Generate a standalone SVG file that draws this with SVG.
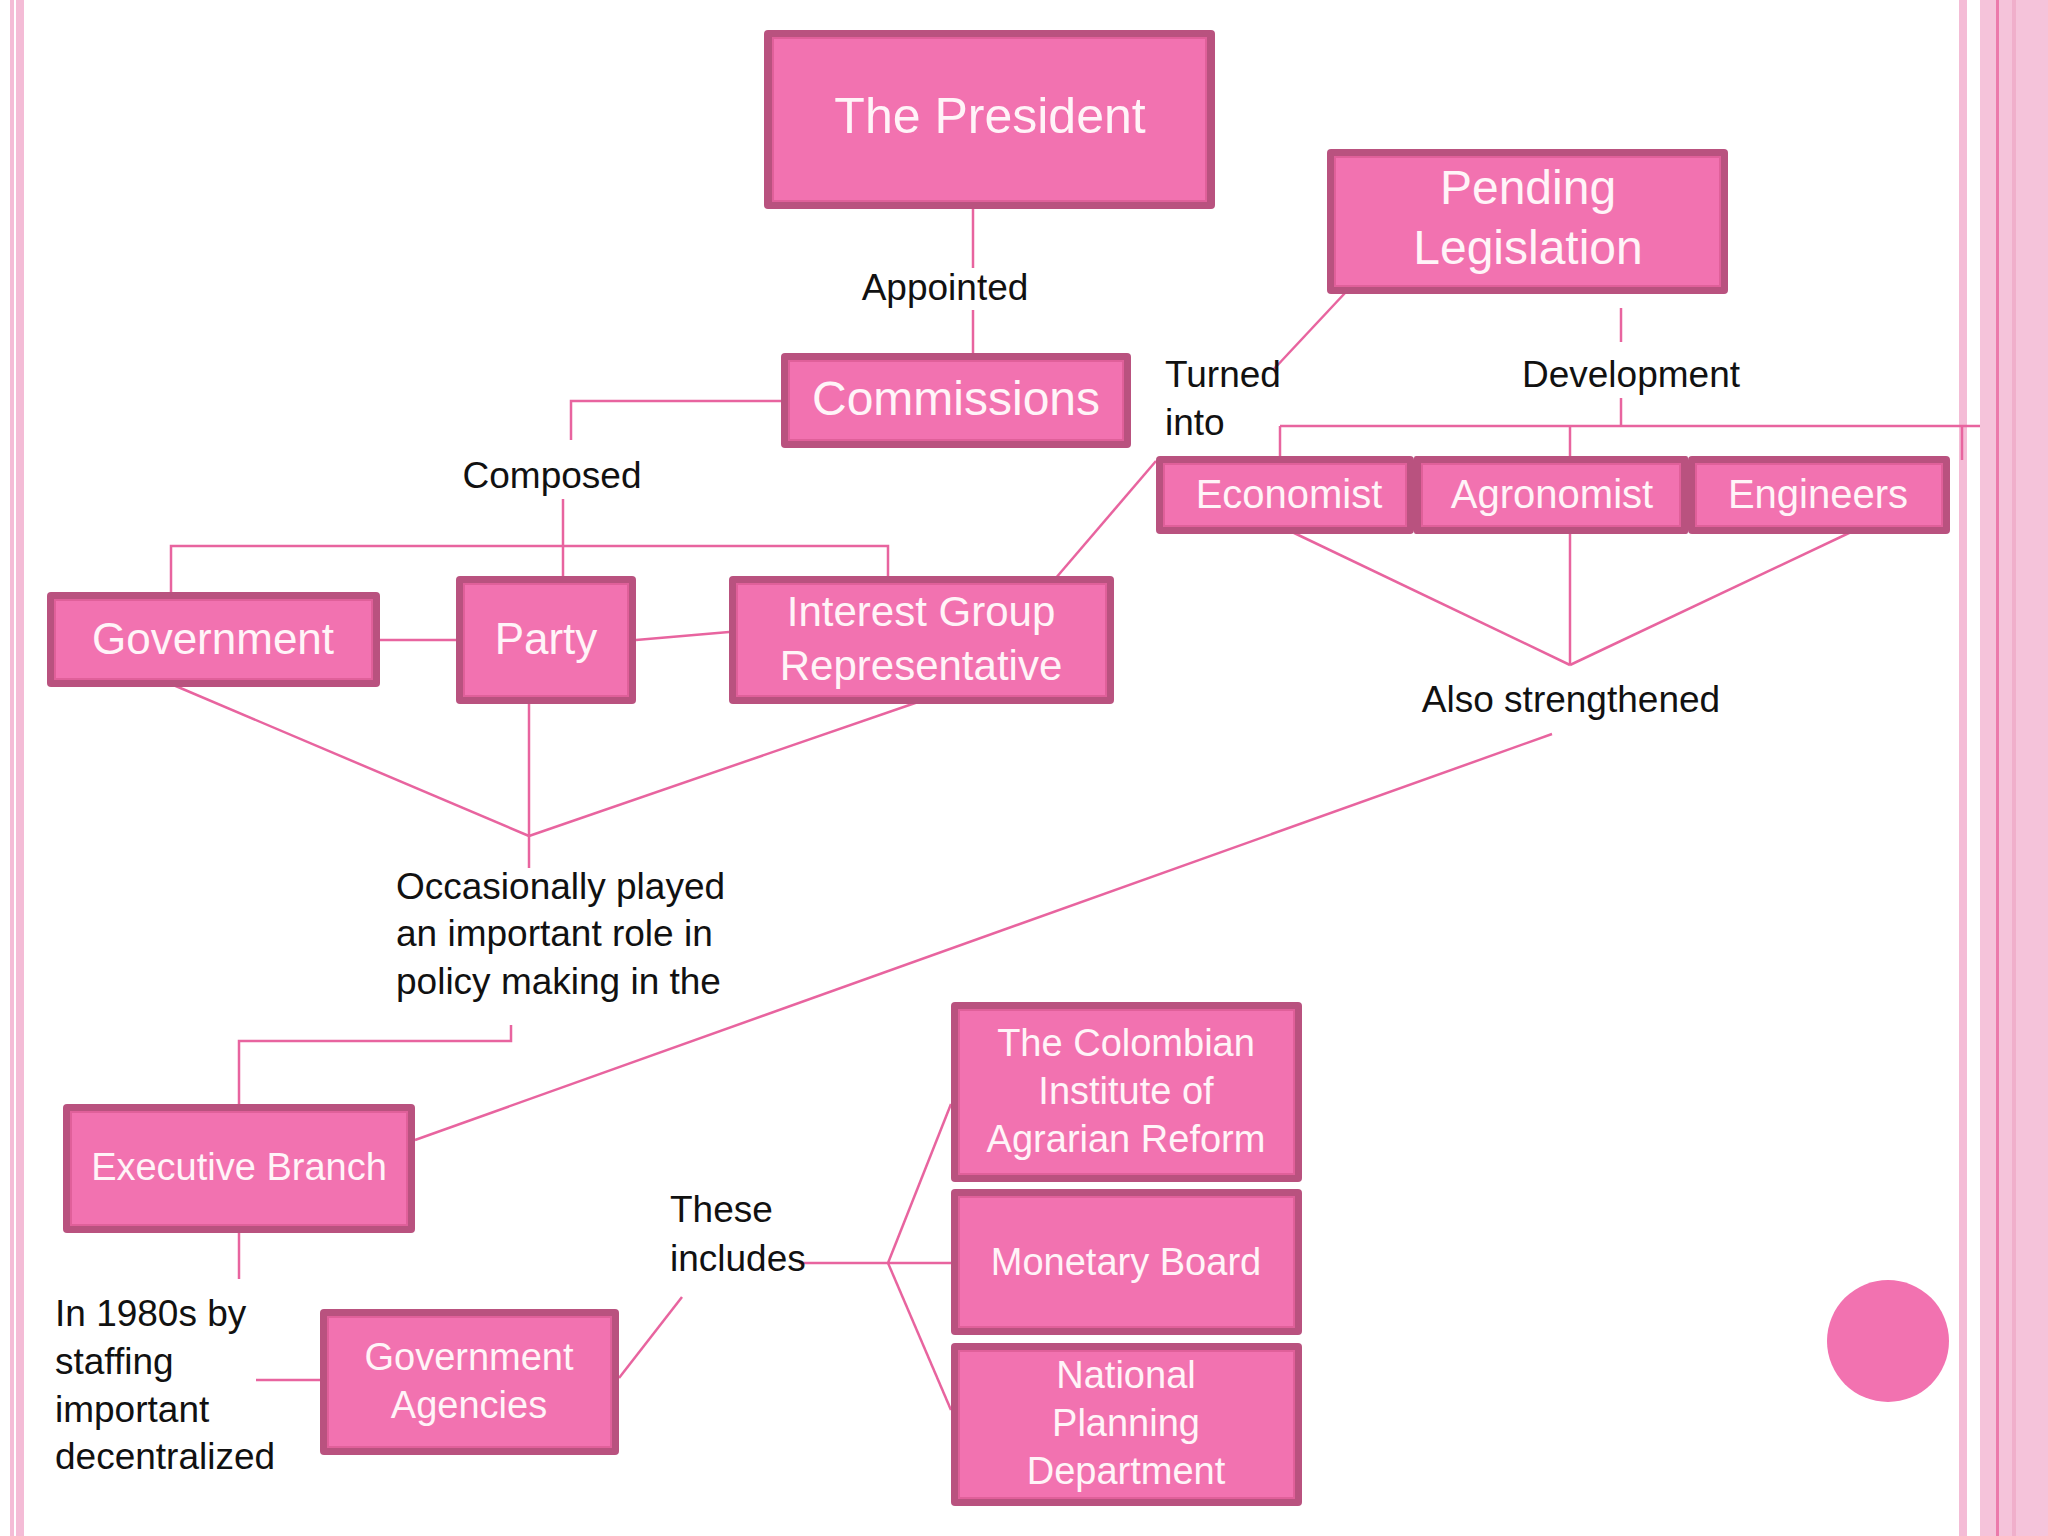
<svg xmlns="http://www.w3.org/2000/svg" width="2048" height="1536" viewBox="0 0 2048 1536">
<style>
.o{fill:#b9527f}
.i{fill:#f272b0;stroke:#e0609a;stroke-width:2}
.t{font-family:"Liberation Sans",Arial,sans-serif;fill:#fff4f8;text-anchor:middle}
.l{font-family:"Liberation Sans",Arial,sans-serif;fill:#111;font-size:37px}
#connectors line,#connectors polyline{stroke:#e8649f;stroke-width:2.5;fill:none}
</style>
<rect width="2048" height="1536" fill="#fff"/>
<rect x="10" y="0" width="4" height="1536" fill="#f4bcd6"/>
<rect x="16" y="0" width="8" height="1536" fill="#f4bcd6"/>
<rect x="1959" y="0" width="8" height="1536" fill="#f4bcd6"/>
<rect x="1980" y="0" width="68" height="1536" fill="#f5c3da"/>
<rect x="1996" y="0" width="3" height="1536" fill="#ec7aab"/>
<rect x="2012" y="0" width="4" height="1536" fill="#f0afcb"/>
<circle cx="1888" cy="1341" r="61" fill="#f272b0"/>
<g id="connectors">
<line x1="973" y1="209" x2="973" y2="268"/><line x1="973" y1="310" x2="973" y2="353"/>
<polyline points="781,401 571,401 571,440"/>
<line x1="563" y1="499" x2="563" y2="576"/>
<polyline points="171,592 171,546 888,546 888,576"/>
<line x1="380" y1="640" x2="456" y2="640"/>
<line x1="636" y1="640" x2="729" y2="632"/>
<line x1="171" y1="684" x2="529" y2="836"/>
<line x1="529" y1="704" x2="529" y2="868"/>
<line x1="921" y1="701" x2="529" y2="836"/>
<polyline points="511,1025 511,1041 239,1041 239,1104"/>
<line x1="1055" y1="579" x2="1156" y2="461"/>
<line x1="1345" y1="293" x2="1273" y2="370"/>
<line x1="1621" y1="308" x2="1621" y2="342"/>
<line x1="1621" y1="398" x2="1621" y2="426"/>
<line x1="1280" y1="426" x2="1980" y2="426"/>
<line x1="1280" y1="426" x2="1280" y2="456"/>
<line x1="1570" y1="426" x2="1570" y2="456"/>
<line x1="1962" y1="426" x2="1962" y2="460"/>
<line x1="1290" y1="531" x2="1570" y2="665"/>
<line x1="1570" y1="534" x2="1570" y2="665"/>
<line x1="1868" y1="524" x2="1570" y2="665"/>
<line x1="1552" y1="734" x2="415" y2="1140"/>
<line x1="239" y1="1233" x2="239" y2="1279"/>
<line x1="256" y1="1380" x2="320" y2="1380"/>
<line x1="619" y1="1378" x2="682" y2="1297"/>
<line x1="799" y1="1263" x2="888" y2="1263"/>
<line x1="888" y1="1263" x2="951" y2="1104"/>
<line x1="888" y1="1263" x2="951" y2="1263"/>
<line x1="888" y1="1263" x2="951" y2="1410"/>
</g>
<g id="president"><rect class="o" x="764" y="30" width="451" height="179" rx="4"/><rect class="i" x="773" y="38" width="433" height="163"/><text class="t" x="990" y="133" font-size="50">The President</text></g>
<g id="pending"><rect class="o" x="1327" y="149" width="401" height="145" rx="4"/><rect class="i" x="1335" y="157" width="385" height="129"/><text class="t" x="1528" y="204" font-size="48">Pending</text><text class="t" x="1528" y="264" font-size="48">Legislation</text></g>
<g id="commissions"><rect class="o" x="781" y="353" width="350" height="95" rx="4"/><rect class="i" x="789" y="361" width="334" height="79"/><text class="t" x="956" y="415" font-size="48">Commissions</text></g>
<g id="government"><rect class="o" x="47" y="592" width="333" height="95" rx="4"/><rect class="i" x="55" y="600" width="317" height="79"/><text class="t" x="213" y="654" font-size="44">Government</text></g>
<g id="party"><rect class="o" x="456" y="576" width="180" height="128" rx="4"/><rect class="i" x="464" y="584" width="164" height="112"/><text class="t" x="546" y="654" font-size="44">Party</text></g>
<g id="interest"><rect class="o" x="729" y="576" width="385" height="128" rx="4"/><rect class="i" x="737" y="584" width="369" height="112"/><text class="t" x="921" y="626" font-size="42">Interest Group</text><text class="t" x="921" y="680" font-size="42">Representative</text></g>
<g id="economist"><rect class="o" x="1156" y="456" width="258" height="78" rx="4"/><rect class="i" x="1164" y="464" width="242" height="62"/><text class="t" x="1289" y="508" font-size="40">Economist</text></g>
<g id="agronomist"><rect class="o" x="1414" y="456" width="274" height="78" rx="2"/><rect class="i" x="1422" y="464" width="258" height="62"/><text class="t" x="1552" y="508" font-size="40">Agronomist</text></g>
<g id="engineers"><rect class="o" x="1688" y="456" width="262" height="78" rx="4"/><rect class="i" x="1696" y="464" width="246" height="62"/><text class="t" x="1818" y="508" font-size="40">Engineers</text></g>
<g id="executive"><rect class="o" x="63" y="1104" width="352" height="129" rx="4"/><rect class="i" x="71" y="1112" width="336" height="113"/><text class="t" x="239" y="1180" font-size="38">Executive Branch</text></g>
<g id="agencies"><rect class="o" x="320" y="1309" width="299" height="146" rx="4"/><rect class="i" x="328" y="1317" width="283" height="130"/><text class="t" x="469" y="1370" font-size="38">Government</text><text class="t" x="469" y="1418" font-size="38">Agencies</text></g>
<g id="colombian"><rect class="o" x="951" y="1002" width="351" height="180" rx="4"/><rect class="i" x="959" y="1010" width="335" height="164"/><text class="t" x="1126" y="1056" font-size="38">The Colombian</text><text class="t" x="1126" y="1104" font-size="38">Institute of</text><text class="t" x="1126" y="1152" font-size="38">Agrarian Reform</text></g>
<g id="monetary"><rect class="o" x="951" y="1189" width="351" height="146" rx="4"/><rect class="i" x="959" y="1197" width="335" height="130"/><text class="t" x="1126" y="1275" font-size="38">Monetary Board</text></g>
<g id="national"><rect class="o" x="951" y="1343" width="351" height="163" rx="4"/><rect class="i" x="959" y="1351" width="335" height="147"/><text class="t" x="1126" y="1388" font-size="38">National</text><text class="t" x="1126" y="1436" font-size="38">Planning</text><text class="t" x="1126" y="1484" font-size="38">Department</text></g>
<g id="labels">
<text class="l" x="945" y="300" text-anchor="middle">Appointed</text>
<text class="l" x="552" y="488" text-anchor="middle">Composed</text>
<text class="l" x="1165" y="387">Turned</text><text class="l" x="1165" y="435">into</text>
<text class="l" x="1631" y="387" text-anchor="middle">Development</text>
<text class="l" x="1571" y="712" text-anchor="middle">Also strengthened</text>
<text class="l" x="396" y="899">Occasionally played</text>
<text class="l" x="396" y="946">an important role in</text>
<text class="l" x="396" y="994">policy making in the</text>
<text class="l" x="55" y="1326">In 1980s by</text><text class="l" x="55" y="1374">staffing</text><text class="l" x="55" y="1422">important</text><text class="l" x="55" y="1469">decentralized</text>
<text class="l" x="670" y="1222">These</text><text class="l" x="670" y="1271">includes</text>
</g>
</svg>
